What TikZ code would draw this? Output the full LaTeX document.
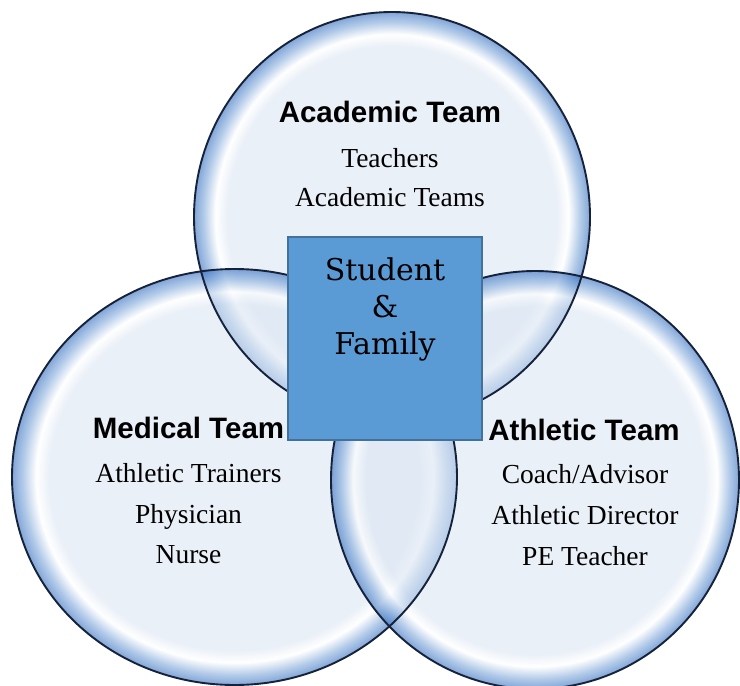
\documentclass[tikz,border=0pt]{standalone}
\usepackage{fontspec}
\usepackage{tikz}
\newfontfamily\headfont{Liberation Sans}
\newfontfamily\listfont{Liberation Serif}
\newfontfamily\corefont{DejaVu Serif}
\definecolor{bubcore}{HTML}{DCE6F3}
\definecolor{bubrim}{HTML}{7FA8DA}
\definecolor{bubedge}{HTML}{2F6BBF}
\definecolor{bubline}{HTML}{16223A}
\definecolor{corefill}{HTML}{5B9BD5}
\definecolor{coreline}{HTML}{41719C}
\pgfdeclareradialshading{bubble}{\pgfpoint{0bp}{0bp}}{%
  color(0bp)=(bubcore); color(20.8bp)=(bubcore); color(22.3bp)=(white);
  color(23.8bp)=(bubrim); color(25bp)=(bubedge); color(50bp)=(bubedge)}
\tikzset{
  bubblefill/.style={shading=bubble,fill opacity=0.6},
  bubbleline/.style={draw=bubline,line width=1.9pt},
  teamhead/.style={font=\headfont\bfseries\fontsize{29.5}{34}\selectfont,inner sep=0pt,anchor=base},
  member/.style={font=\listfont\fontsize{27.5}{32}\selectfont,inner sep=0pt,anchor=base},
  corebox/.style={draw=coreline,fill=corefill,line width=1.4pt,
    minimum width=194pt,minimum height=203pt,inner sep=0pt},
  coretext/.style={font=\corefont\fontsize{30}{36}\selectfont,inner sep=0pt,anchor=base}
}

\begin{document}
\begin{tikzpicture}[x=1pt,y=-1pt]
  \useasboundingbox (0,0) rectangle (740,686);
  \fill[white] (0,0) rectangle (740,686);
  \clip (0,0) rectangle (740,686);
  % the three team circles: glassy fills first, rims on top
  \path[bubblefill] (392,217) ellipse [x radius=198pt,y radius=205pt];
  \path[bubblefill] (234.5,477) ellipse [x radius=222.5pt,y radius=208pt];
  \path[bubblefill] (535,480) ellipse [x radius=204pt,y radius=209pt];
  \draw[bubbleline] (392,217) ellipse [x radius=198pt,y radius=205pt];
  \draw[bubbleline] (234.5,477) ellipse [x radius=222.5pt,y radius=208pt];
  \draw[bubbleline] (535,480) ellipse [x radius=204pt,y radius=209pt];
  % student in the middle
  \node[corebox] (core) at (385,338.5) {};
  \node[coretext] (core1) at (385,280) {Student};
  \node[coretext] (core2) at (385,317) {\&};
  \node[coretext] (core3) at (385,354) {Family};
  % academic
  \node[teamhead] (acad) at (390,122) {Academic Team};
  \node[member] (acad1) at (390,167) {Teachers};
  \node[member] (acad2) at (390,206) {Academic Teams};
  % medical
  \node[teamhead] (med) at (188.5,438) {Medical Team};
  \node[member] (med1) at (188.5,482) {Athletic Trainers};
  \node[member] (med2) at (188.5,523) {Physician};
  \node[member] (med3) at (188.5,563) {Nurse};
  % athletic
  \node[teamhead] (ath) at (584,440) {Athletic Team};
  \node[member] (ath1) at (585,483) {Coach/Advisor};
  \node[member] (ath2) at (585,524) {Athletic Director};
  \node[member] (ath3) at (585,565) {PE Teacher};
\end{tikzpicture}
\end{document}
